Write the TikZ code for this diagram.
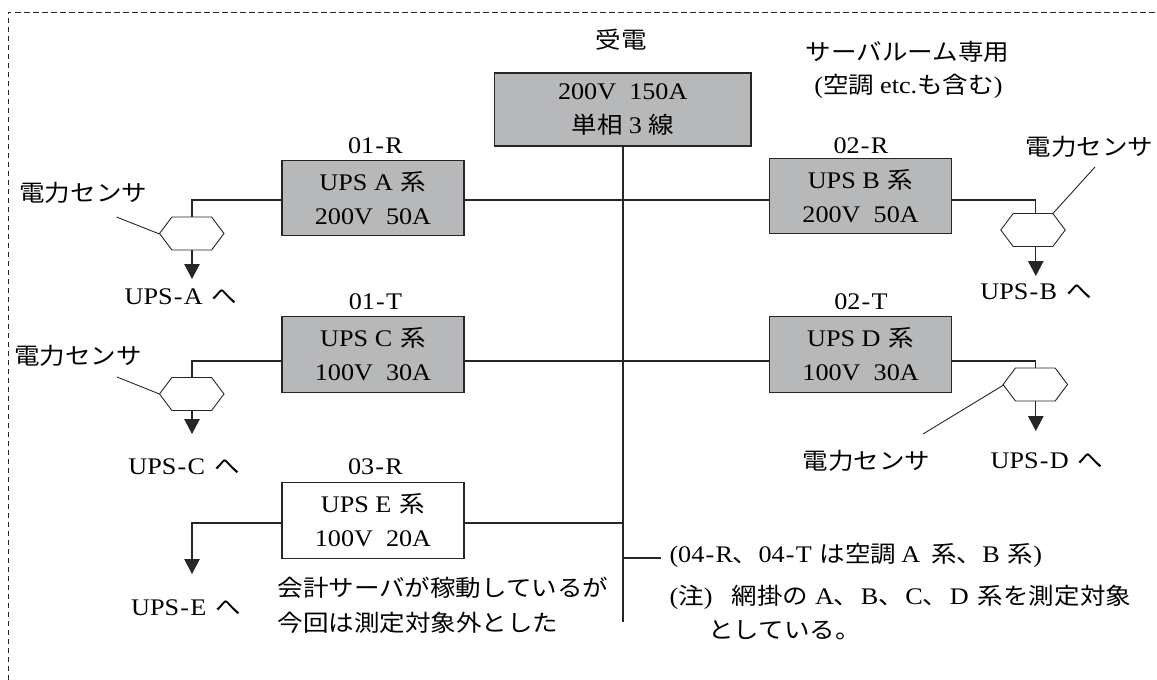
\documentclass[tikz,border=0pt]{standalone}
\usepackage{fontspec}
\setmainfont[FakeStretch=1.1]{Liberation Serif}
\newfontfamily\jpf[FakeStretch=1.11]{Noto Sans CJK JP}
\newcommand{\J}[1]{{\jpf\fontsize{23}{34}\selectfont #1}}
\newcommand{\G}{\kern8pt}
\newcommand{\Hy}{\kern1.2pt-\kern1.2pt}
\usetikzlibrary{arrows.meta,shapes.symbols}
\definecolor{boxgray}{HTML}{B7B8BA}
\tikzset{
  x=1pt,y=-1pt,
  every node/.style={inner sep=0pt,outer sep=0pt,font=\fontsize{23.8}{34}\selectfont,align=center,text=black},
  wire/.style={draw=black!85,line width=1.1pt},
  arrowwire/.style={wire,-{Triangle[length=15pt,width=15.5pt]}},
  leader/.style={draw=black!85,line width=0.9pt},
  frameline/.style={draw=black!85,line width=0.9pt,dash pattern=on 5.5pt off 3.5pt},
  powerbox/.style={draw=black!85,line width=1.2pt,minimum width=182pt,minimum height=75.5pt,fill=boxgray},
  whitebox/.style={draw=black!85,line width=1.2pt,minimum width=182pt,minimum height=75.5pt,fill=white},
  sensor/.style={draw=black!85,line width=0.9pt,fill=white,shape=signal,signal to=east and west,signal pointer angle=106,minimum width=64.5pt,minimum height=33pt},
}
\begin{document}
\begin{tikzpicture}
\useasboundingbox (0,0) rectangle (1157,680);
\draw[frameline] (8,680) -- (8,12) -- (1157,12);

% main boxes
\node[powerbox,minimum width=256.5pt,minimum height=73pt] (main) at (622.75,109.5) {200V\ \ 150A\\\J{単相}\kern6pt 3\kern6pt\J{線}};
\node[powerbox] (ra) at (373,198) {UPS A\G\J{系}\\200V\ \ 50A};
\node[powerbox] (rb) at (860.6,196) {UPS B\G\J{系}\\200V\ \ 50A};
\node[powerbox] (rc) at (373,354.5) {UPS C\G\J{系}\\100V\ \ 30A};
\node[powerbox] (rd) at (860.6,354.5) {UPS D\G\J{系}\\100V\ \ 30A};
\node[whitebox] (re) at (373,520.5) {UPS E\G\J{系}\\100V\ \ 20A};

% circuit labels
\node (la) at (375.5,146) {01\Hy R};
\node (lb) at (861,146) {02\Hy R};
\node (lc) at (375.5,302) {01\Hy T};
\node (ld) at (861,302) {02\Hy T};
\node (le) at (375.5,467) {03\Hy R};

% sensors
\node[sensor] (sa) at (191.75,233.5) {};
\node[sensor] (sb) at (1033,230) {};
\node[sensor] (sc) at (191.75,394) {};
\node[sensor] (sd) at (1035.3,384.5) {};

% bus
\coordinate (busend) at (623,622);
\coordinate (busa) at (623,200);
\coordinate (busc) at (623,361);
\coordinate (buse) at (623,523);
\coordinate (busf) at (623,558);
\coordinate (stub) at (661.4,558);
\draw[wire] (main.south -| busend) -- (busend);
\draw[wire] (ra.east |- busa) -- (rb.west |- busa);
\draw[wire] (rc.east |- busc) -- (rd.west |- busc);
\draw[wire] (re.east |- buse) -- (buse);
\draw[wire] (busf) -- (stub);

% feeders
\coordinate (ka) at (192,200);
\coordinate (kb) at (1035.8,200);
\coordinate (kc) at (192,361);
\coordinate (kd) at (1035.8,361);
\coordinate (ke) at (192,523);
\draw[wire] (ra.west |- ka) -- (ka) -- (ka |- sa.north);
\draw[wire] (rb.east |- kb) -- (kb) -- (kb |- sb.north);
\draw[wire] (rc.west |- kc) -- (kc) -- (kc |- sc.north);
\draw[wire] (rd.east |- kd) -- (kd) -- (kd |- sd.north);

% arrows
\coordinate (ta) at (192,279);
\coordinate (tb) at (1035.8,276);
\coordinate (tc) at (192,434);
\coordinate (td) at (1035.8,431);
\coordinate (te) at (192,574);
\draw[arrowwire] (ta |- sa.south) -- (ta);
\draw[arrowwire] (tb |- sb.south) -- (tb);
\draw[arrowwire] (tc |- sc.south) -- (tc);
\draw[arrowwire] (td |- sd.south) -- (td);
\draw[arrowwire] (re.west |- ke) -- (ke) -- (te);

% sensor labels and leaders
\node (na) at (83.25,193) {\J{電力センサ}};
\node (nb) at (1089.3,147) {\J{電力センサ}};
\node (nc) at (78,356) {\J{電力センサ}};
\node (nd) at (866.4,461) {\J{電力センサ}};
\coordinate (qa) at (116.5,217);
\coordinate (qb) at (1095,167);
\coordinate (qc) at (117,377);
\coordinate (qd) at (923,434);
\coordinate (ha) at (159.5,234);
\coordinate (hb) at (1052.4,214);
\coordinate (hc) at (159.5,394);
\coordinate (hd) at (1003.6,385);
\draw[leader] (qa) -- (ha);
\draw[leader] (qb) -- (hb);
\draw[leader] (qc) -- (hc);
\draw[leader] (qd) -- (hd);

% destinations
\node (da) at (181,297) {UPS\Hy A\kern9pt\J{へ}};
\node (db) at (1036,292) {UPS\Hy B\kern9pt\J{へ}};
\node (dc) at (184,467) {UPS\Hy C\kern9pt\J{へ}};
\node (dd) at (1047,461) {UPS\Hy D\kern9pt\J{へ}};
\node (de) at (186,608) {UPS\Hy E\kern9pt\J{へ}};

% free text
\node (rx) at (621.4,40) {\J{受電}};
\node (sv) at (907.5,52) {\J{サーバルーム専用}};
\node (sw) at (908.5,86) {(\J{空調}\kern6pt etc.\J{も含む})};
\node[anchor=west] (ne1) at (277.5,588) {\J{会計サーバが稼動しているが}};
\node[anchor=west] (ne2) at (277.5,623) {\J{今回は測定対象外とした}};
\node[anchor=west] (n1) at (669.5,555) {(04\Hy R\J{、}04\Hy T\G\J{は空調}\kern5pt A\kern11pt\J{系、}B\G\J{系})};
\node[anchor=west] (n2) at (669.5,597) {(\J{注})\kern19pt\J{網掛の}\kern7pt A\J{、}\kern1.5pt B\J{、}\kern1.5pt C\J{、}\kern1.5pt D\kern9pt\J{系を測定対象}};
\node[anchor=west] (n3) at (708.3,630) {\J{としている。}};
\end{tikzpicture}
\end{document}
